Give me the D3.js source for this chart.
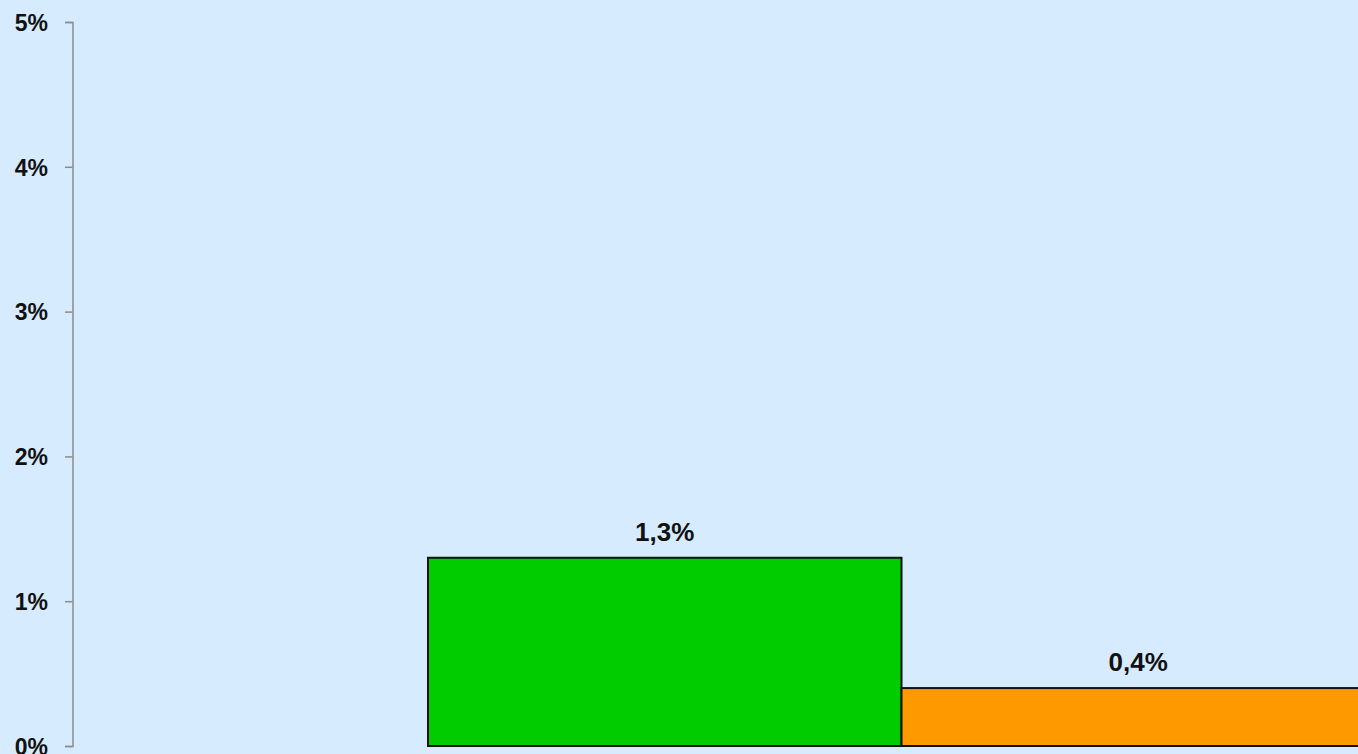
<!DOCTYPE html>
<html>
<head>
<meta charset="utf-8">
<script src="https://cdn.jsdelivr.net/npm/d3@7/dist/d3.min.js"></script>
<style>
  html, body { margin: 0; padding: 0; background: #d6ebfe; overflow: hidden; }
  .axis .domain, .axis .tick line { stroke: #8c8c8c; stroke-width: 1.5; }
  .axis text { font-family: "Liberation Sans", Arial, sans-serif; font-size: 23px; font-weight: bold; fill: #111; }
  .barlabel { font-family: "Liberation Sans", Arial, sans-serif; font-size: 26px; font-weight: bold; fill: #111; }
</style>
</head>
<body>
<svg width="1358" height="754"></svg>
<script>
// values
var categories = ["A", "B"];
var values = [1.3, 0.4];
var colors = ["#00cc00", "#ff9900"];
var yTicks = [0, 1, 2, 3, 4, 5];

var svg = d3.select("svg"),
    yTop = 22, yBottom = 746, axisX = 72.5;

var x = d3.scaleBand()
    .domain(categories)
    .range([428, 1375])
    .padding(0);

var y = d3.scaleLinear()
    .domain([0, 5])
    .range([yBottom, yTop]);

svg.append("g")
    .attr("class", "axis")
    .attr("transform", "translate(" + axisX + ",0)")
    .call(d3.axisLeft(y)
        .tickValues(yTicks)
        .tickSize(7.5)
        .tickPadding(17)
        .tickFormat(function(d) { return d + "%"; }))
  .selectAll("text")
    .attr("dy", "0.36em");

svg.append("g")
  .selectAll("rect")
  .data(values)
  .enter().append("rect")
    .attr("x", function(d, i) { return x(categories[i]); })
    .attr("y", function(d) { return y(d); })
    .attr("width", x.bandwidth())
    .attr("height", function(d) { return y(0) - y(d); })
    .attr("fill", function(d, i) { return colors[i]; })
    .attr("stroke", "#111")
    .attr("stroke-width", 2);

svg.append("g")
  .selectAll("text")
  .data(values)
  .enter().append("text")
    .attr("class", "barlabel")
    .attr("x", function(d, i) { return x(categories[i]) + x.bandwidth() / 2; })
    .attr("y", function(d) { return y(d) - 17; })
    .attr("text-anchor", "middle")
    .text(function(d) { return String(d.toFixed(1)).replace(".", ",") + "%"; });
</script>
</body>
</html>
